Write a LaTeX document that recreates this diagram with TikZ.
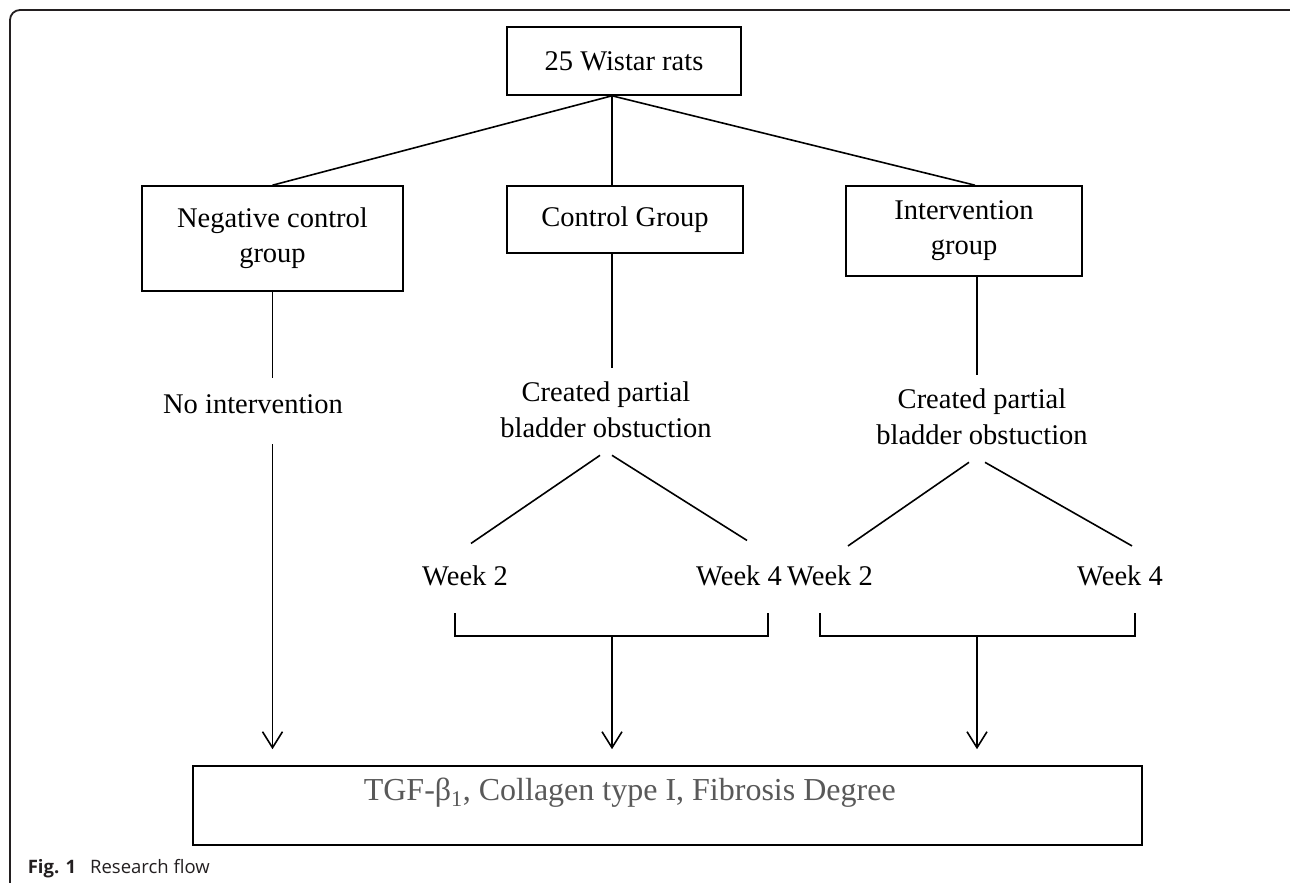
\documentclass[tikz,border=0pt]{standalone}
\usepackage{fontspec}
\setmainfont{Liberation Serif}
\newfontfamily\capfont{Open Sans}
\usetikzlibrary{arrows.meta}
\definecolor{resgray}{HTML}{595959}
\definecolor{capgray}{HTML}{231F20}
\tikzstyle{stage}=[rectangle, draw, line width=1.6pt, align=center, font=\fontsize{28.5}{35}\selectfont]
\tikzstyle{txt}=[align=center, inner sep=0pt, font=\fontsize{28.5}{36}\selectfont]

\begin{document}
\begin{tikzpicture}[x=1pt, y=-1pt, line width=1.6pt, >={Straight Barb[length=16pt,width=20pt]}]
    \useasboundingbox (0,0) rectangle (1290,883);
    \draw[capgray, line width=1.8pt, rounded corners=10pt] (1300,10) -- (10,10) -- (10,900);
    % boxes
    \node[stage, minimum width=234pt, minimum height=68pt] (0) at (624, 61) {25 Wistar rats};
    \node[stage, minimum width=261pt, minimum height=105pt] (1) at (272.5, 238.5) {Negative control\\group};
    \node[stage, minimum width=236pt, minimum height=67pt] (2) at (625, 219.5) {Control Group};
    \node[stage, minimum width=236pt, minimum height=90pt] (3) at (964, 231) {Intervention\\group};
    \coordinate (top) at ([xshift=-12pt]0.south);
    \draw (top)--(1.north) (top)--(top |- 2.north) (top)--([xshift=11pt]3.north);
    % second row
    \node[txt, anchor=base] (4) at (253, 413) {No intervention};
    \node[txt] (5) at (606, 409.5) {Created partial\\bladder obstuction};
    \node[txt] (8) at (982, 416.5) {Created partial\\bladder obstuction};
    \draw[shorten >=15pt] (1.south)--(1.south |- 4.north);
    \draw[shorten >=12.5pt] (top |- 2.south)--(top |- 5.north);
    \draw[shorten >=12.5pt] ([xshift=13pt]3.south)--([xshift=-5pt]8.north);
    % weeks
    \node[txt, anchor=base] (6) at (465, 585) {Week 2};
    \node[txt, anchor=base] (7) at (739, 585) {Week 4};
    \node[txt, anchor=base] (11) at (830, 585) {Week 2};
    \node[txt, anchor=base] (12) at (1120, 585) {Week 4};
    \draw ([xshift=-6pt, yshift=-17pt]5.south)--([xshift=6pt, yshift=21pt]6.north);
    \draw ([xshift=6pt, yshift=-17pt]5.south)--([xshift=8pt, yshift=24pt]7.north);
    \draw ([xshift=-13pt, yshift=-17pt]8.south)--([xshift=18pt, yshift=18.5pt]11.north);
    \draw ([xshift=3pt, yshift=-17pt]8.south)--([xshift=12pt, yshift=18.5pt]12.north);
    % result
    \node[stage, minimum width=949pt, minimum height=79pt] (9) at (667.5, 805.5) {};
    \node[txt, anchor=base west, text=resgray, font=\fontsize{32}{38}\selectfont] (10) at (363, 800) {TGF-β\textsubscript{1}, Collagen type I, Fibrosis Degree};
    \coordinate (a1) at (455, 613);
    \coordinate (a2) at (768, 613);
    \coordinate (a3) at (612, 636);
    \coordinate (c1) at (820, 613);
    \coordinate (c2) at (1135, 613);
    \coordinate (c3) at (977, 636);
    \draw (a1) |- (a3) -| (a2);
    \draw (c1) |- (c3) -| (c2);
    \draw[->, shorten >=16pt] (a3)--(a3 |- 9.north);
    \draw[->, shorten >=16pt] (c3)--(c3 |- 9.north);
    \draw[->, shorten <=30pt, shorten >=16pt] (1.south |- 4.south)--(1.south |- 9.north);
    % caption
    \node[anchor=base west, inner sep=0pt, text=capgray, font=\capfont\fontsize{18.5}{22}\selectfont] (cap) at (27, 873) {\textbf{Fig. 1}\hspace{0.75em}Research flow};
\end{tikzpicture}
\end{document}
